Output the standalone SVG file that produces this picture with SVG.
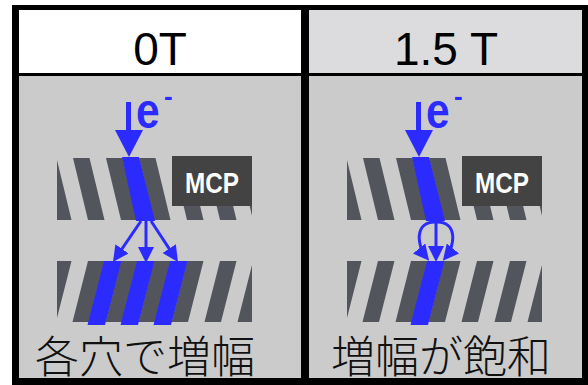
<svg xmlns="http://www.w3.org/2000/svg" width="588" height="385" viewBox="0 0 588 385">
  <style>
    .wall { fill: #52565c; }
    .beam { fill: #2b2bff; }
    .flow { stroke: #2b2bff; stroke-width: 3; fill: none; marker-end: url(#head); }
    .title { font-family: "Liberation Sans", Arial, sans-serif; font-size: 46px; fill: #000; text-anchor: middle; }
    .caption { font-family: "Noto Sans CJK JP", "Noto Sans CJK SC", sans-serif; font-size: 44px; font-weight: 300; fill: #111; }
    .mcp-box { fill: #434343; }
    .mcp-label { font-family: "Liberation Sans", Arial, sans-serif; font-weight: bold; font-size: 29px; fill: #fff; text-anchor: middle; }
    .electron { font-family: "Liberation Sans", Arial, sans-serif; font-weight: bold; fill: #2b2bff; }
  </style>
  <defs>
    <marker id="head" markerUnits="userSpaceOnUse" viewBox="0 0 16 16" markerWidth="16" markerHeight="16" refX="11" refY="8" orient="auto">
      <path d="M0,0L16,8L0,16z" fill="#2b2bff"/>
    </marker>
    <clipPath id="upper-clip"><rect x="57" y="158" width="195" height="62"/></clipPath>
    <clipPath id="lower-clip"><rect x="57" y="261" width="195" height="64"/></clipPath>
    <!-- slanted channel walls of the first plate (lean down-right) -->
    <path id="upper-walls" d="M40,158h16.5l15,62h-16.5z M73,158h16.5l15,62h-16.5z M106,158h16.5l15,62h-16.5z M139,158h16.5l15,62h-16.5z M172,158h16.5l15,62h-16.5z M205,158h16.5l15,62h-16.5z M238,158h16.5l15,62h-16.5z"/>
    <!-- slanted channel walls of the second plate (lean down-left) -->
    <path id="lower-walls" d="M55,261h16.5l-15.5,61h-16.5z M88,261h16.5l-15.5,61h-16.5z M121,261h16.5l-15.5,61h-16.5z M154,261h16.5l-15.5,61h-16.5z M187,261h16.5l-15.5,61h-16.5z M220,261h16.5l-15.5,61h-16.5z M253,261h16.5l-15.5,61h-16.5z"/>
    <!-- lit channel in the first plate -->
    <path id="upper-beam" d="M122,157H139L155,221H136z"/>
    <!-- electron arrow and label -->
    <g id="electron">
      <rect x="126" y="102" width="5" height="30" class="beam"/>
      <path d="M115,130H143L129,157z" class="beam"/>
      <text class="electron" transform="translate(136,128) scale(0.85,1)" font-size="50">e</text>
      <text class="electron" x="164" y="104.5" font-size="26">-</text>
    </g>
    <g id="mcp">
      <rect x="172" y="156" width="80" height="50" class="mcp-box"/>
      <text x="212" y="193" class="mcp-label" textLength="54" lengthAdjust="spacingAndGlyphs">MCP</text>
    </g>
  </defs>

  <!-- frame -->
  <rect x="12" y="5" width="576" height="380" fill="#000"/>
  <rect x="19" y="10" width="282" height="63" fill="#fff"/>
  <rect x="309" y="10" width="273" height="63" fill="#dcdcde"/>
  <rect x="19" y="76" width="282" height="302" fill="#cbcbcb"/>
  <rect x="309" y="76" width="273" height="302" fill="#cbcbcb"/>

  <!-- panel without field -->
  <g id="panel-0T">
    <text class="title" x="160" y="65">0T</text>
    <g id="plate-top-0T">
      <use href="#upper-walls" class="wall" clip-path="url(#upper-clip)"/>
      <use href="#upper-beam" class="beam"/>
    </g>
    <g id="plate-bottom-0T" clip-path="url(#lower-clip)">
      <use href="#lower-walls" class="wall"/>
      <path class="beam" d="M104,261H121.5L105,325H87.5z M137,261H154.5L138,325H120.5z M170,261H187.5L171,325H153.5z"/>
    </g>
    <use href="#mcp"/>
    <use href="#electron"/>
    <g id="connectors-0T">
      <path class="flow" d="M141,221L115.8,257.9"/>
      <path class="flow" d="M146,221V258"/>
      <path class="flow" d="M151,221L175.2,257.8"/>
    </g>
    <text class="caption" x="35" y="373">各穴で増幅</text>
  </g>

  <!-- panel at 1.5 T -->
  <g id="panel-1-5T">
    <text class="title" x="446" y="65">1.5 T</text>
    <g transform="translate(290,0)">
      <g id="plate-top-15T">
        <use href="#upper-walls" class="wall" clip-path="url(#upper-clip)"/>
        <use href="#upper-beam" class="beam"/>
      </g>
      <g id="plate-bottom-15T" clip-path="url(#lower-clip)">
        <use href="#lower-walls" class="wall"/>
        <path class="beam" d="M137,261H154.5L138,325H120.5z"/>
      </g>
      <use href="#mcp"/>
      <use href="#electron"/>
    </g>
    <g id="connectors-15T">
      <path class="flow" d="M436,222C414,221 417,246 426,257"/>
      <path class="flow" d="M436,222C458,221 455,246 446,257"/>
      <path class="flow" d="M436,222V257"/>
    </g>
    <text class="caption" x="331" y="373">増幅が飽和</text>
  </g>
</svg>
